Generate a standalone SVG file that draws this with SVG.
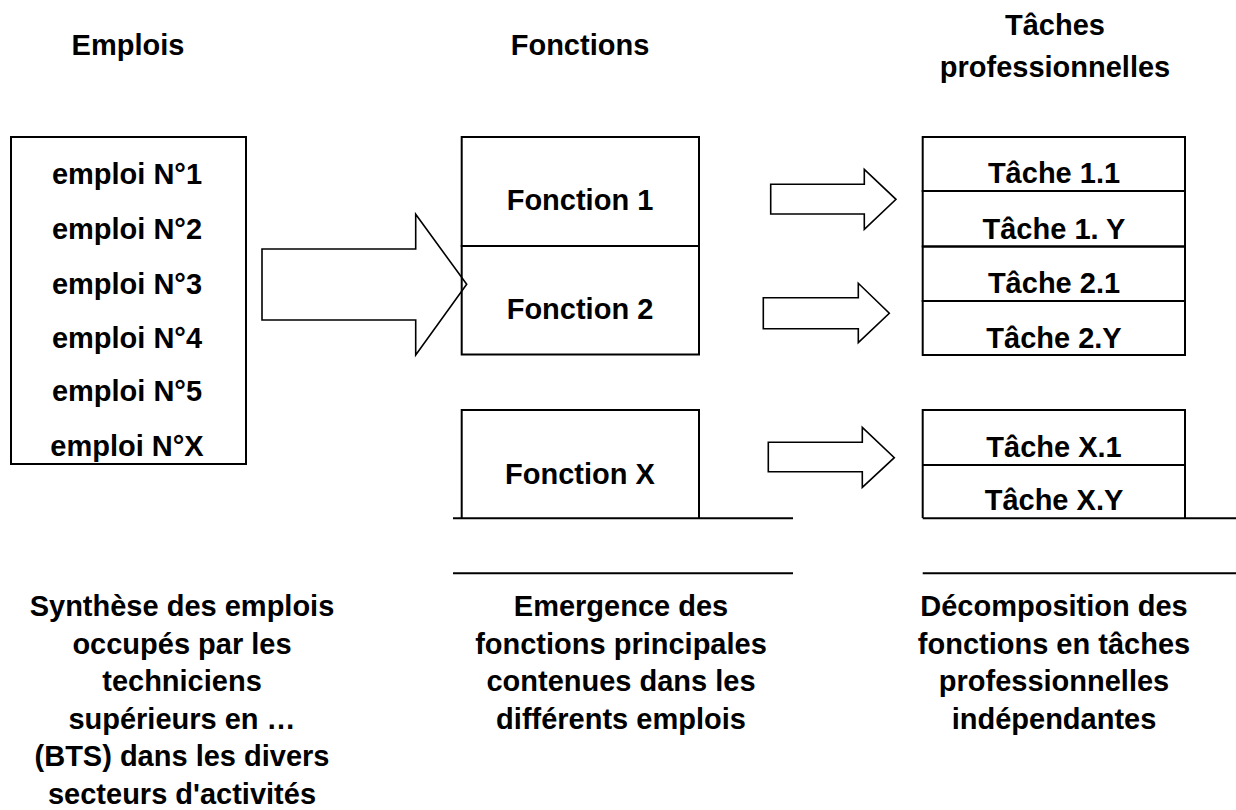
<svg xmlns="http://www.w3.org/2000/svg" width="1236" height="810" viewBox="0 0 1236 810">
<style>
text{font-family:"Liberation Sans",Arial,sans-serif;font-weight:bold;font-size:29px;fill:#000;text-anchor:middle}
.box{fill:none;stroke:#000;stroke-width:2}
.ln{stroke:#000;stroke-width:2;fill:none}
.arr{fill:none;stroke:#000;stroke-width:1.6;stroke-linejoin:miter}
</style>
<rect width="1236" height="810" fill="#fff"/>
<g id="headers">
<text x="128" y="55">Emplois</text>
<text x="580" y="55">Fonctions</text>
<text x="1055" y="35">Tâches</text>
<text x="1055" y="77">professionnelles</text>
</g>
<g id="emplois">
<rect class="box" x="11" y="137" width="235" height="327"/>
<text x="127" y="184">emploi N°1</text>
<text x="127" y="239">emploi N°2</text>
<text x="127" y="293.5">emploi N°3</text>
<text x="127" y="348">emploi N°4</text>
<text x="127" y="401">emploi N°5</text>
<text x="127" y="455.5">emploi N°X</text>
</g>
<g id="fonction1">
<rect class="box" x="461.7" y="137" width="237.3" height="109"/>
<text x="580" y="210">Fonction 1</text>
</g>
<g id="fonction2">
<rect class="box" x="461.7" y="246" width="237.3" height="108.5"/>
<text x="580" y="319">Fonction 2</text>
</g>
<g id="fonctionX">
<path class="ln" d="M461.7,518.3 V410 H699 V518.3"/>
<text x="580" y="483.5">Fonction X</text>
</g>
<g id="taches1">
<rect class="box" x="922.7" y="137" width="262.3" height="54"/>
<text x="1054" y="183">Tâche 1.1</text>
<rect class="box" x="922.7" y="191" width="262.3" height="55.5"/>
<text x="1054" y="239">Tâche 1. Y</text>
</g>
<g id="taches2">
<rect class="box" x="922.7" y="246.5" width="262.3" height="54.5"/>
<text x="1054" y="293">Tâche 2.1</text>
<rect class="box" x="922.7" y="301" width="262.3" height="54"/>
<text x="1054" y="348">Tâche 2.Y</text>
</g>
<g id="tachesX">
<path class="ln" d="M922.7,518 V410 H1185 V518"/>
<line class="ln" x1="922.7" y1="465" x2="1185" y2="465"/>
<text x="1054" y="457">Tâche X.1</text>
<text x="1054" y="510">Tâche X.Y</text>
</g>
<g id="rules">
<line class="ln" x1="453" y1="518.3" x2="793" y2="518.3"/>
<line class="ln" x1="453" y1="573.3" x2="793" y2="573.3"/>
<line class="ln" x1="922.7" y1="518.3" x2="1236" y2="518.3"/>
<line class="ln" x1="922.7" y1="573.3" x2="1236" y2="573.3"/>
</g>
<g id="connectors">
<path class="arr" d="M262,249 H415.7 V214.3 L466.7,284.3 L415.7,355 V320 H262 Z"/>
<path class="arr" d="M770.7,184.3 H864.3 V169.3 L896,199.3 L864.3,229.3 V214 H770.7 Z"/>
<path class="arr" d="M763.3,297.7 H858.3 V283.3 L889.3,313.3 L858.3,342.7 V328.7 H763.3 Z"/>
<path class="arr" d="M768.3,442.3 H862.3 V427.3 L894.3,457.7 L862.3,487.3 V471.7 H768.3 Z"/>
</g>
<g id="captions">
<text x="182" y="616">Synthèse des emplois</text>
<text x="182" y="653.5">occupés par les</text>
<text x="182" y="691">techniciens</text>
<text x="182" y="728.5">supérieurs en …</text>
<text x="182" y="766">(BTS) dans les divers</text>
<text x="182" y="803.5">secteurs d'activités</text>
<text x="621" y="616">Emergence des</text>
<text x="621" y="653.5">fonctions principales</text>
<text x="621" y="691">contenues dans les</text>
<text x="621" y="728.5">différents emplois</text>
<text x="1054" y="616">Décomposition des</text>
<text x="1054" y="653.5">fonctions en tâches</text>
<text x="1054" y="691">professionnelles</text>
<text x="1054" y="728.5">indépendantes</text>
</g>
</svg>
